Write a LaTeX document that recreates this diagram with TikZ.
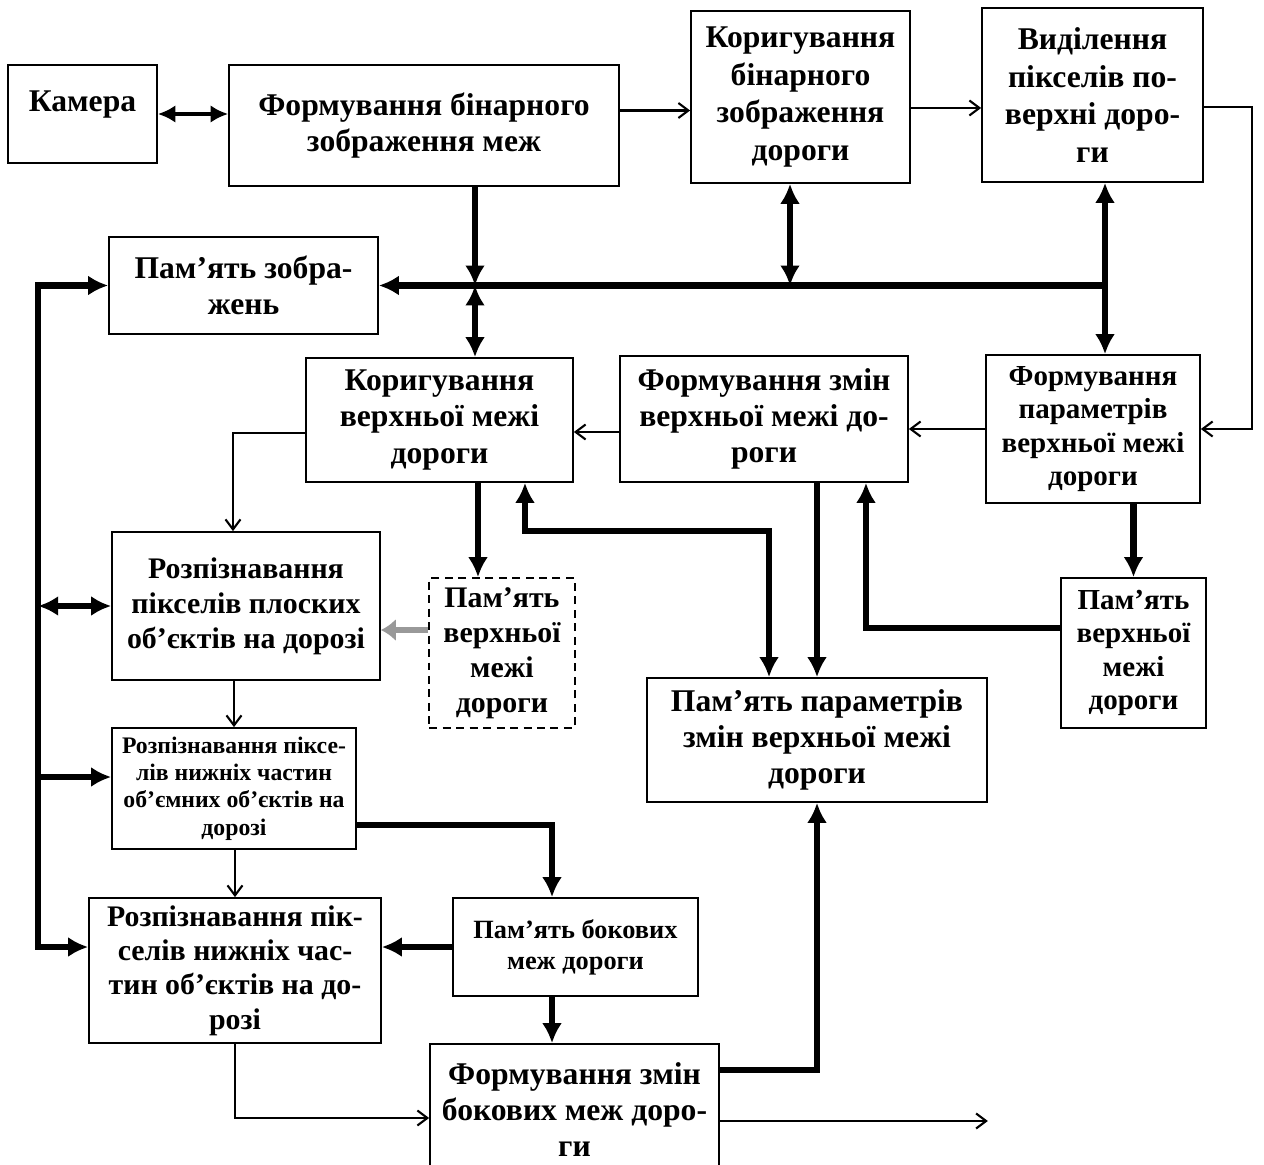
\documentclass[tikz,border=0pt]{standalone}
\usepackage{fontspec}
\setmainfont{Liberation Serif}
\usetikzlibrary{arrows.meta}

\begin{document}
\begin{tikzpicture}[x=0.02cm,y=-0.02cm,
    blk/.style={draw,line width=1pt,inner sep=0pt,align=center,font=\bfseries\fontsize{18}{20.5}\selectfont},
    bigarr/.style={line width=3.5pt,-{Latex[length=4mm,width=4mm]}},
    bigdbl/.style={line width=3.5pt,{Latex[length=4mm,width=4mm]}-{Latex[length=4mm,width=4mm]}},
    thinarr/.style={line width=1.2pt,-{Straight Barb[length=2mm,width=3mm]}}]
\useasboundingbox (0,0) rectangle (1264,1165);
\node[blk,minimum width=2.98cm,minimum height=1.96cm,text depth=0.5cm] (cam) at (82.5,114) {Камера};
\node[blk,minimum width=7.8cm,minimum height=2.42cm] (binform) at (424,125.5) {Формування бінарного\\зображення меж};
\node[blk,minimum width=4.38cm,minimum height=3.44cm,font=\bfseries\fontsize{18}{21.5}\selectfont] (bincorr) at (800.5,97) {Коригування\\бінарного\\зображення\\дороги};
\node[blk,minimum width=4.42cm,minimum height=3.48cm,font=\bfseries\fontsize{18}{21.5}\selectfont] (surfsel) at (1092.5,95) {Виділення\\пікселів по-\\верхні доро-\\ги};
\node[blk,minimum width=5.38cm,minimum height=1.94cm] (imgmem) at (243.5,285.5) {Пам’ять зобра-\\жень};
\node[blk,minimum width=5.34cm,minimum height=2.48cm] (upcorr) at (439.5,420) {Коригування\\верхньої межі\\дороги};
\node[blk,minimum width=5.76cm,minimum height=2.52cm] (upchg) at (764,419) {Формування змін\\верхньої межі до-\\роги};
\node[blk,minimum width=4.28cm,minimum height=2.96cm,font=\bfseries\fontsize{16.5}{19}\selectfont] (upparam) at (1093,429) {Формування\\параметрів\\верхньої межі\\дороги};
\node[blk,minimum width=5.36cm,minimum height=2.96cm,font=\bfseries\fontsize{17}{20}\selectfont] (flatrec) at (246,606) {Розпізнавання\\пікселів плоских\\об’єктів на дорозі};
\node[blk,dash pattern=on 1.6mm off 1.1mm,minimum width=2.92cm,minimum height=3cm,font=\bfseries\fontsize{17}{20}\selectfont] (dmem) at (502,653) {Пам’ять\\верхньої\\межі\\дороги};
\node[blk,minimum width=6.8cm,minimum height=2.48cm] (parmem) at (817,740) {Пам’ять параметрів\\змін верхньої межі\\дороги};
\node[blk,minimum width=2.9cm,minimum height=3cm,font=\bfseries\fontsize{16.5}{19}\selectfont] (rmem) at (1133.5,653) {Пам’ять\\верхньої\\межі\\дороги};
\node[blk,minimum width=4.88cm,minimum height=2.42cm,font=\bfseries\fontsize{13.5}{15.5}\selectfont] (volrec) at (234,788.5) {Розпізнавання піксе-\\лів нижніх частин\\об’ємних об’єктів на\\дорозі};
\node[blk,minimum width=5.84cm,minimum height=2.9cm,font=\bfseries\fontsize{17}{19.5}\selectfont] (botrec) at (235,970.5) {Розпізнавання пік-\\селів нижніх час-\\тин об’єктів на до-\\розі};
\node[blk,minimum width=4.9cm,minimum height=1.96cm,font=\bfseries\fontsize{15}{17.5}\selectfont] (sidemem) at (575.5,947) {Пам’ять бокових\\меж дороги};
\node[blk,minimum width=5.78cm,minimum height=2.64cm] (sidechg) at (574.5,1110) {Формування змін\\бокових меж доро-\\ги};
\coordinate (lbus) at ([xshift=-1.4cm]imgmem.west);

\draw[line width=2.5pt,{Latex[length=3.5mm,width=3.5mm]}-{Latex[length=3.5mm,width=3.5mm]}] (cam.east) -- (cam.east -| binform.west);
\draw[thinarr] ([yshift=0.3cm]binform.east) -- ([yshift=0.3cm]binform.east -| bincorr.west);
\draw[thinarr] ([yshift=-0.22cm]bincorr.east) -- ([yshift=-0.22cm]bincorr.east -| surfsel.west);
\draw[thinarr] ([yshift=-0.24cm]surfsel.east) -- ++(48,0) |- (upparam.east);
\draw[bigarr] ([xshift=0.25cm]surfsel.south |- imgmem.east) -- (imgmem.east);
\draw[bigarr] ([xshift=1.02cm]binform.south) -- ([xshift=1.02cm]binform.south |- imgmem.east);
\draw[bigdbl] ([xshift=0.71cm]upcorr.north |- imgmem.east) -- ([xshift=0.71cm]upcorr.north);
\draw[bigdbl] ([xshift=-0.21cm]bincorr.south) -- ([xshift=-0.21cm]bincorr.south |- imgmem.east);
\draw[bigdbl] ([xshift=0.25cm]surfsel.south) -- ([xshift=0.25cm]surfsel.south |- upparam.north);
\draw[bigdbl] ([yshift=0.47cm]botrec.west) -| (lbus) -- (imgmem.west);
\draw[bigdbl] (lbus |- flatrec.west) -- (flatrec.west);
\draw[bigarr] ([yshift=0.23cm]volrec.west -| lbus) -- ([yshift=0.23cm]volrec.west);
\draw[thinarr] ([yshift=-0.26cm]upchg.west) -- ([yshift=-0.26cm]upchg.west -| upcorr.east);
\draw[thinarr] (upparam.west) -- (upparam.west -| upchg.east);
\draw[thinarr] ([yshift=-0.26cm]upcorr.west) -| ([xshift=-0.26cm]flatrec.north);
\draw[bigarr] ([xshift=0.77cm]upcorr.south) -- ([xshift=0.77cm]upcorr.south |- dmem.north);
\draw[bigdbl] ([xshift=1.71cm]upcorr.south) -- ++(0,48) -| ([xshift=-0.96cm]parmem.north);
\draw[bigarr] (upchg.south -| parmem.north) -- (parmem.north);
\draw[bigarr] ([yshift=0.5cm]rmem.west) -| ([xshift=2.04cm]upchg.south);
\draw[bigarr] (upparam.south -| rmem.north) -- (rmem.north);
\draw[line width=3pt,black!40,-{Latex[length=3mm,width=4.5mm]}] ([yshift=0.46cm]dmem.west) -- ([yshift=0.46cm]dmem.west -| flatrec.east);
\draw[thinarr] (flatrec.south -| volrec.north) -- (volrec.north);
\draw[bigarr] ([yshift=-0.73cm]volrec.east) -| ([xshift=-0.47cm]sidemem.north);
\draw[thinarr] (botrec.north |- volrec.south) -- (botrec.north);
\draw[bigarr] (sidemem.west) -- (sidemem.west -| botrec.east);
\draw[bigarr] ([xshift=-0.47cm]sidemem.south) -- ([xshift=-0.47cm]sidemem.south |- sidechg.north);
\draw[thinarr] (botrec.south) |- ([yshift=-0.16cm]sidechg.west);
\draw[bigarr] ([yshift=0.8cm]sidechg.east) -| (parmem.south);
\draw[thinarr] ([yshift=-0.22cm]sidechg.east) -- ++(268,0);
\end{tikzpicture}
\end{document}
